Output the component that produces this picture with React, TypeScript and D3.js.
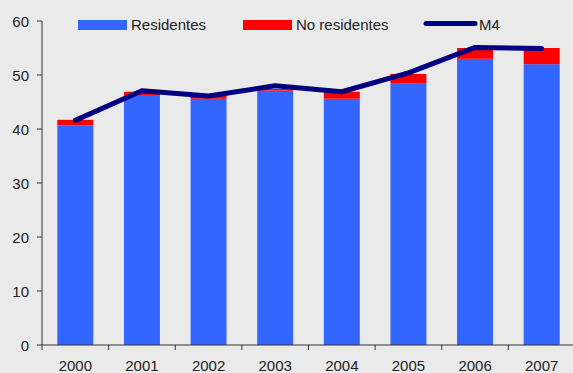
import * as d3 from 'd3'
import { useMemo } from 'react'

const years = ['2000', '2001', '2002', '2003', '2004', '2005', '2006', '2007']
const residentes = [40.7, 46.3, 45.6, 47.1, 45.6, 48.5, 53.0, 52.0]
const noResidentes = [1.0, 0.6, 0.7, 0.3, 1.3, 1.7, 2.0, 3.0]
const m4 = [41.6, 47.1, 46.1, 48.0, 46.9, 50.4, 55.1, 54.9]
const yTicks = [0, 10, 20, 30, 40, 50, 60]

const W = 573
const H = 373
const BLUE = '#3366ff'
const RED = '#ff0000'
const NAVY = '#000080'
const FONT = '"Liberation Sans", Arial, sans-serif'

const App = () => {
    const margin = { left: 42, right: -2, top: 21, bottom: 28 }
    const width = W - margin.left - margin.right
    const height = H - margin.top - margin.bottom

    const x = useMemo(() => d3.scaleBand().domain(years).range([0, width]).paddingInner(0.46).paddingOuter(0.23), [width])
    const band = useMemo(() => d3.scaleBand().domain(years).range([0, width]), [width])
    const y = useMemo(() => d3.scaleLinear().domain([0, 60]).range([height, 0]), [height])

    const line = d3.line<number>()
        .x((_, i) => (band(years[i]) as number) + band.bandwidth() / 2)
        .y(d => y(d))

    const bars = years.map((yr, i) => {
        const bx = x(yr) as number
        const top = residentes[i] + noResidentes[i]
        return (
            <g key={yr}>
                <rect x={bx} y={y(residentes[i])} width={x.bandwidth()} height={y(0) - y(residentes[i])} fill={BLUE} />
                <rect x={bx} y={y(top)} width={x.bandwidth()} height={y(residentes[i]) - y(top)} fill={RED} />
            </g>
        )
    })

    const yAxis = (
        <g>
            <line x1={0} x2={0} y1={0} y2={height} stroke="#333" strokeWidth={1} />
            {yTicks.map(t => (
                <g key={t}>
                    <line x1={-5} x2={0} y1={y(t)} y2={y(t)} stroke="#333" />
                    <text x={-13} y={y(t)} textAnchor="end" dominantBaseline="central" fontSize={15} fill="#222">{t}</text>
                </g>
            ))}
        </g>
    )

    const xAxis = (
        <g transform={`translate(0,${height})`}>
            <line x1={0} x2={width} y1={0} y2={0} stroke="#333" />
            {years.map(yr => (
                <g key={yr}>
                    <line x1={band(yr) as number} x2={band(yr) as number} y1={0} y2={5} stroke="#333" />
                    <text x={(band(yr) as number) + band.bandwidth() / 2} y={26} textAnchor="middle" fontSize={15} fill="#222">{yr}</text>
                </g>
            ))}
        </g>
    )

    const legend = (
        <g fontSize={15} fill="#222">
            <rect x={78} y={20} width={49} height={10} fill={BLUE} />
            <text x={131} y={30}>Residentes</text>
            <rect x={243} y={20} width={49} height={10} fill={RED} />
            <text x={296} y={30}>No residentes</text>
            <line x1={426} x2={475} y1={23.5} y2={23.5} stroke={NAVY} strokeWidth={5} strokeLinecap="round" />
            <text x={479} y={30}>M4</text>
        </g>
    )

    return (
        <svg width={W} height={H} style={{ position: 'absolute', left: 0, top: 0, background: '#eaeaea', fontFamily: FONT }}>
            <rect x={0} y={0} width={W} height={H} fill="#eaeaea" />
            <g transform={`translate(${margin.left},${margin.top})`}>
                {bars}
                {xAxis}
                {yAxis}
                <path d={line(m4) as string} fill="none" stroke={NAVY} strokeWidth={5} strokeLinejoin="round" strokeLinecap="round" />
            </g>
            {legend}
        </svg>
    )
}

export default App
